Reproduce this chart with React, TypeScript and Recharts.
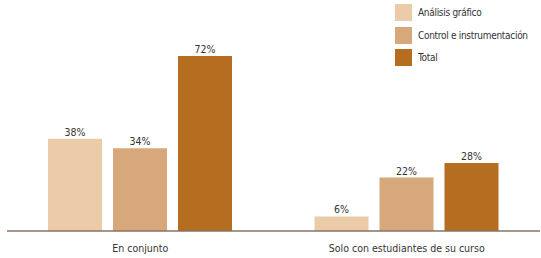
import { BarChart, Bar, XAxis, YAxis, LabelList } from "recharts";

const CATEGORIES = ["En conjunto", "Solo con estudiantes de su curso"];
const ANALISIS = [38, 6];
const CONTROL = [34, 22];
const TOTAL = [72, 28];

const SERIES = [
  { key: "analisis", name: "Análisis gráfico", color: "#ebcba8" },
  { key: "control", name: "Control e instrumentación", color: "#d6a87b" },
  { key: "total", name: "Total", color: "#b56d20" },
];

const data = CATEGORIES.map((cat, i) => ({
  cat,
  analisis: ANALISIS[i],
  control: CONTROL[i],
  total: TOTAL[i],
}));

const FONT = "'DejaVu Sans Condensed', 'Liberation Sans Narrow', sans-serif";

function LegendBox() {
  return (
    <div
      style={{
        position: "absolute",
        left: 395,
        top: 4,
        fontFamily: FONT,
        fontSize: 10,
        letterSpacing: -0.3,
        color: "#333",
      }}
    >
      {SERIES.map((s) => (
        <div key={s.key} style={{ display: "flex", alignItems: "center", height: 17, marginBottom: 5.5, whiteSpace: "nowrap" }}>
          <span style={{ width: 17, height: 17, background: s.color, display: "inline-block", marginRight: 6, flexShrink: 0 }} />
          <span>{s.name}</span>
        </div>
      ))}
    </div>
  );
}

export default function App() {
  return (
    <div
      style={{
        position: "fixed",
        left: 0,
        top: 0,
        width: 541,
        height: 258,
        background: "#fff",
        overflow: "hidden",
      }}
    >
      <BarChart
        width={541}
        height={258}
        data={data}
        margin={{ top: 56, right: 1, left: 7, bottom: 0 }}
        barCategoryGap={40}
        barGap={11}
      >
        <XAxis
          dataKey="cat"
          height={27}
          axisLine={{ stroke: "#8a7262", strokeWidth: 1.5 }}
          tickLine={false}
          tick={{ fontSize: 10.5, fill: "#333", fontFamily: FONT }}
          tickMargin={8}
        />
        <YAxis hide domain={[0, 72]} />
        {SERIES.map((s) => (
          <Bar key={s.key} dataKey={s.key} name={s.name} fill={s.color} barSize={54} isAnimationActive={false}>
            <LabelList
              dataKey={s.key}
              position="top"
              offset={3}
              formatter={(v: number) => `${v}%`}
              style={{ fontSize: 10.5, fill: "#333", fontFamily: FONT }}
            />
          </Bar>
        ))}
      </BarChart>
      <LegendBox />
    </div>
  );
}
